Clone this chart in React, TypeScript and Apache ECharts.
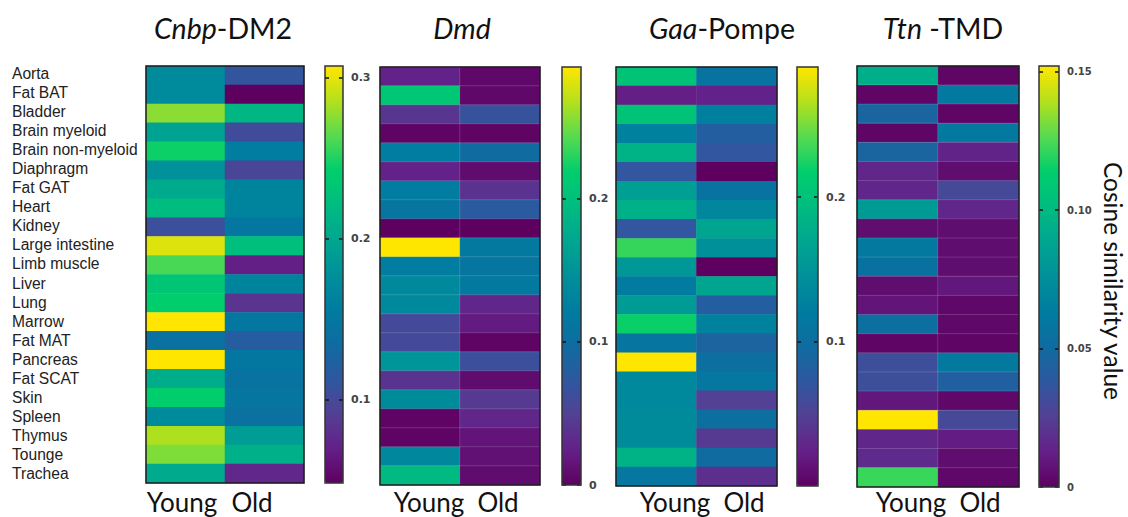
import React, { useEffect, useRef } from "react";
import * as echarts from "echarts";

const tissues = ["Aorta","Fat BAT","Bladder","Brain myeloid","Brain non-myeloid","Diaphragm","Fat GAT","Heart","Kidney","Large intestine","Limb muscle","Liver","Lung","Marrow","Fat MAT","Pancreas","Fat SCAT","Skin","Spleen","Thymus","Tounge","Trachea"];
const groups = ["Young", "Old"];

const cnbpYoung = [.172,.172,.276,.196,.245,.178,.203,.222,.105,.297,.260,.232,.242,.307,.141,.307,.206,.242,.172,.284,.273,.203];
const cnbpOld = [.110,.048,.216,.102,.157,.097,.165,.165,.149,.224,.069,.165,.084,.149,.118,.149,.144,.146,.141,.190,.209,.074];
const dmdYoung = [.026,.210,.041,.003,.123,.026,.123,.111,0,.292,.123,.137,.137,.058,.058,.152,.038,.140,.003,.003,.134,.193];
const dmdOld = [.006,.006,.067,.003,.096,.009,.038,.076,0,.117,.111,.117,.029,.020,.003,.064,.009,.044,.029,.015,.012,.009];
const gaaYoung = [.203,.023,.203,.128,.183,.070,.162,.180,.070,.232,.154,.119,.157,.220,.110,.29,.136,.136,.139,.139,.183,.113];
const gaaOld = [.107,.026,.125,.081,.070,0,.107,.133,.168,.145,0,.168,.081,.128,.087,.099,.113,.049,.099,.044,.096,.035];
const ttnYoung = [.094,.002,.046,.002,.046,.015,.015,.082,.005,.061,.055,.005,.008,.052,.002,.033,.033,.009,.152,.015,.017,.122];
const ttnOld = [.002,.061,.002,.061,.014,.005,.030,.015,.005,.005,.005,.009,.003,.003,.002,.061,.043,.003,.030,.011,.005,.003];

const colormap = ["#5e0060","#642088","#534094","#2e58a0","#0e6ca0","#007ca0","#00909a","#00a690","#00bc80","#00ce6c","#58da50","#b4e01c","#ffe600"];
const FONT = "Lato, 'Noto Sans', sans-serif";

const panels = [
  { name: "Cnbp", suffix: "-DM2", young: cnbpYoung, old: cnbpOld, min: 0.048, max: 0.307, ticks: [0.1, 0.2, 0.3], tickText: ["0.1","0.2","0.3"],
    x: 146, w: 158, y: 66, h: 417, cx: 325, cw: 18, titleX: 218, youngX: 182, oldX: 252, soft: false },
  { name: "Dmd", suffix: "", young: dmdYoung, old: dmdOld, min: 0, max: 0.292, ticks: [0, 0.1, 0.2], tickText: ["0","0.1","0.2"],
    x: 380, w: 160, y: 67, h: 418, cx: 562, cw: 19, titleX: 457, youngX: 429, oldX: 498, soft: true },
  { name: "Gaa", suffix: "-Pompe", young: gaaYoung, old: gaaOld, min: 0, max: 0.29, ticks: [0.1, 0.2], tickText: ["0.1","0.2"],
    x: 616, w: 161, y: 67, h: 419, cx: 797, cw: 21, titleX: 717, youngX: 675, oldX: 744, soft: false },
  { name: "Ttn", suffix: " -TMD", young: ttnYoung, old: ttnOld, min: 0, max: 0.152, ticks: [0, 0.05, 0.1, 0.15], tickText: ["0","0.05","0.10","0.15"],
    x: 857, w: 162, y: 66, h: 421, cx: 1039, cw: 20, titleX: 938, youngX: 911, oldX: 980, soft: true },
];

export default function App() {
  const ref = useRef<HTMLDivElement>(null);
  useEffect(() => {
    const chart = echarts.init(ref.current!, undefined, { renderer: "svg" });
    const grid: any[] = [], xAxis: any[] = [], yAxis: any[] = [], series: any[] = [], visualMap: any[] = [], title: any[] = [], graphic: any[] = [];

    // tissue labels
    grid.push({ left: 146, top: 63.5, width: 158, height: 420 });
    xAxis.push({ type: "category", gridIndex: 0, data: groups, show: false });
    yAxis.push({ type: "category", gridIndex: 0, data: tissues, inverse: true, axisLine: { show: false }, axisTick: { show: false },
      axisLabel: { align: "left", margin: 134, fontSize: 15.6, color: "#222", fontFamily: "'Liberation Sans', Arial, sans-serif", interval: 0 } });

    panels.forEach((p, i) => {
      const gi = grid.length;
      grid.push({ left: p.x, top: p.y, width: p.w, height: p.h });
      xAxis.push({ type: "category", gridIndex: gi, data: groups, show: false });
      const yi = yAxis.length;
      yAxis.push({ type: "category", gridIndex: gi, data: tissues, inverse: true, show: false });
      const data: number[][] = [];
      tissues.forEach((_, r) => { data.push([0, r, p.young[r]]); data.push([1, r, p.old[r]]); });
      series.push({ type: "heatmap", xAxisIndex: gi, yAxisIndex: yi, data, progressive: 0,
        itemStyle: p.soft ? { borderColor: "rgba(255,255,255,0.14)", borderWidth: 1 } : {}, emphasis: { disabled: true } });

      visualMap.push({ type: "continuous", seriesIndex: i, min: p.min, max: p.max, inRange: { color: colormap },
        left: p.cx, top: p.y, itemWidth: p.cw, itemHeight: p.h, padding: 0, calculable: false, text: null, hoverLink: false });

      const gc = grid.length;
      grid.push({ left: p.cx, top: p.y, width: p.cw, height: p.h });
      xAxis.push({ type: "category", gridIndex: gc, data: groups, show: false });
      const tickLine = { show: true, inside: true, length: 4, customValues: p.ticks, lineStyle: { color: "#111", width: 1.5 } };
      yAxis.push({ type: "value", gridIndex: gc, min: p.min, max: p.max, position: "left", z: 10,
        axisLine: { show: false }, splitLine: { show: false }, axisLabel: { show: false }, axisTick: tickLine });
      yAxis.push({ type: "value", gridIndex: gc, min: p.min, max: p.max, position: "right", z: 10,
        axisLine: { show: false }, splitLine: { show: false }, axisTick: tickLine,
        axisLabel: { show: true, customValues: p.ticks, margin: 8, fontSize: p.tickText.length > 3 ? 10 : 11, fontWeight: "bold", color: "#444",
          fontFamily: "'DejaVu Sans', sans-serif", formatter: (v: number) => p.tickText[p.ticks.findIndex((t) => Math.abs(t - v) < 1e-6)] ?? "" } });

      title.push({ left: p.titleX, top: 8, textAlign: "center", text: `{i|${p.name}}{n|${p.suffix}}`,
        textStyle: { fontWeight: "normal", rich: {
          i: { fontFamily: FONT, fontSize: 28.5, fontStyle: "italic", fontWeight: "normal", color: "#111" },
          n: { fontFamily: FONT, fontSize: 28.5, fontWeight: "normal", color: "#111" } } } });

      graphic.push({ type: "rect", z: 100, shape: { x: p.x, y: p.y, width: p.w, height: p.h }, style: { fill: "none", stroke: "#1c1c1c", lineWidth: 1.5 } });
      graphic.push({ type: "rect", z: 100, shape: { x: p.cx, y: p.y, width: p.cw, height: p.h }, style: { fill: "none", stroke: "#333", lineWidth: 1.5 } });
      graphic.push({ type: "text", z: 100, x: p.youngX, y: 502, style: { text: groups[0], fontFamily: FONT, fontSize: 26, fill: "#111", align: "center", verticalAlign: "middle" } });
      graphic.push({ type: "text", z: 100, x: p.oldX, y: 502, style: { text: groups[1], fontFamily: FONT, fontSize: 26, fill: "#111", align: "center", verticalAlign: "middle" } });
    });

    graphic.push({ type: "text", z: 100, x: 1113, y: 281, rotation: -Math.PI / 2, style: { text: "Cosine similarity value", fontFamily: FONT, fontSize: 24.5, fill: "#111", align: "center", verticalAlign: "middle" } });

    chart.setOption({ animation: false, backgroundColor: "#fff", tooltip: { show: false }, title, grid, xAxis, yAxis, series, visualMap, graphic });
    return () => chart.dispose();
  }, []);
  return <div ref={ref} style={{ position: "absolute", left: 0, top: 0, width: 1128, height: 517 }} />;
}
